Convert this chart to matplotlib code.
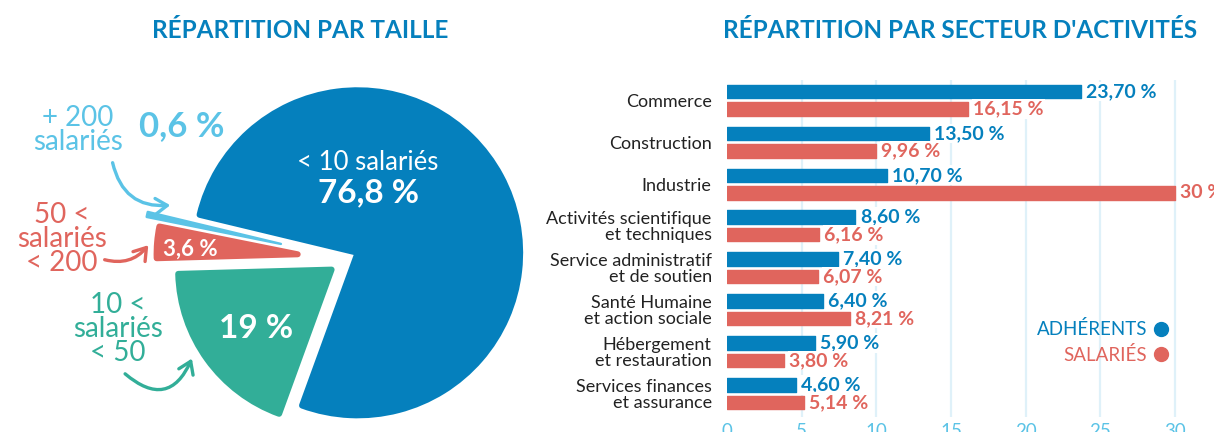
import matplotlib
matplotlib.use("Agg")
import matplotlib.pyplot as plt
from matplotlib.lines import Line2D
from matplotlib.patches import FancyArrowPatch

plt.rcParams['font.family'] = ['Lato', 'DejaVu Sans']

BLUE = '#0580bd'
RED = '#e0655d'
GREEN = '#32ae98'
LIGHT = '#5bc3e6'
GRID = '#dff1f9'
DARK = '#222222'

# pie data (répartition par taille)
size_labels = ['< 10 salariés', '+ 200\nsalariés', '50 <\nsalariés\n< 200', '10 <\nsalariés\n< 50']
size_values = [76.8, 0.6, 3.6, 19.0]

# bar data (répartition par secteur)
sectors = ['Commerce', 'Construction', 'Industrie', 'Activités scientifique\net techniques',
           'Service administratif\net de soutien', 'Santé Humaine\net action sociale',
           'Hébergement\net restauration', 'Services finances\net assurance']
adherents = [23.70, 13.50, 10.70, 8.60, 7.40, 6.40, 5.90, 4.60]
salaries = [16.15, 9.96, 30.0, 6.16, 6.07, 8.21, 3.80, 5.14]

W, H = 1214, 432
fig = plt.figure(figsize=(W / 100, H / 100), dpi=100)


def P(px, py):
    # pixel position (from top-left) -> figure fraction
    return px / W, 1 - py / H


def fmt(v, dec=2):
    if float(v).is_integer() and dec == 2:
        return f"{int(v)} %"
    return f"{v:.{dec}f}".replace('.', ',') + " %"


# ---------------- pie ----------------
unit = 165.0
cx, cy = 347, 258.5
axp = fig.add_axes([0, 0, 607 / W, 1])
wedges, _ = axp.pie(size_values, colors=[BLUE, LIGHT, RED, GREEN], startangle=-110,
                    counterclock=True, explode=[0.073, 0.41, 0.30, 0.115], radius=1)
for w, r, lw in zip(wedges, [0.985, 0.83, 0.855, 0.93], [6, 2.4, 6, 6]):
    w.set_radius(r)
    w.set_edgecolor(w.get_facecolor())
    w.set_linewidth(lw * 0.72)
    w.set_joinstyle('round')
axp.set_xlim(-cx / unit, (607 - cx) / unit)
axp.set_ylim(-(H - cy) / unit, cy / unit)
axp.set_aspect('equal')
axp.axis('off')

fig.text(*P(368, 163), size_labels[0], color='white', fontsize=18.5, ha='center', va='center')
fig.text(*P(369, 193), fmt(size_values[0], 1), color='white', fontsize=24,
         fontweight='bold', ha='center', va='center')
fig.text(*P(256, 328), fmt(size_values[3], 0), color='white', fontsize=24,
         fontweight='bold', ha='center', va='center')
fig.text(*P(190, 249), fmt(size_values[2], 1), color='white', fontsize=16,
         fontweight='bold', ha='center', va='center')
fig.text(*P(182, 126), fmt(size_values[1], 1), color=LIGHT, fontsize=25,
         fontweight='bold', ha='center', va='center')

fig.text(*P(78, 130), size_labels[1], color=LIGHT, fontsize=20, ha='center', va='center',
         linespacing=0.9)
fig.text(*P(62, 239), size_labels[2], color=RED, fontsize=20, ha='center', va='center',
         linespacing=0.9)
fig.text(*P(118, 329), size_labels[3], color=GREEN, fontsize=20, ha='center', va='center',
         linespacing=0.9)

for start, end, col, rad in [((112, 160), (173, 205), LIGHT, 0.45),
                             ((102, 259), (150, 243), RED, 0.35),
                             ((123, 372), (193, 356), GREEN, 0.7)]:
    fig.add_artist(FancyArrowPatch(
        P(*start), P(*end), transform=fig.transFigure, color=col, lw=2.4,
        arrowstyle='->,head_length=0.6,head_width=0.4',
        connectionstyle=f'arc3,rad={rad}', mutation_scale=14, capstyle='round', joinstyle='round'))

fig.text(*P(300, 30), 'RÉPARTITION PAR TAILLE', color=BLUE, fontsize=17.5, fontweight='bold',
         ha='center', va='center')
fig.text(*P(960, 30), "RÉPARTITION PAR SECTEUR D'ACTIVITÉS", color=BLUE, fontsize=17.5,
         fontweight='bold', ha='center', va='center')

# ---------------- bars ----------------
x0, xpx = 727, 448 / 30.0
axb = fig.add_axes([x0 / W, 1 - 417 / H, (W - x0) / W, (417 - 80) / H])
ypos = list(range(len(sectors)))
off, bh = 0.209, 0.322
axb.barh([y - off for y in ypos], adherents, height=bh, color=BLUE, edgecolor=BLUE,
         linewidth=1, joinstyle='round', zorder=3)
axb.barh([y + off for y in ypos], salaries, height=bh, color=RED, edgecolor=RED,
         linewidth=1, joinstyle='round', zorder=3)
for y, a, s in zip(ypos, adherents, salaries):
    axb.text(a + 0.35, y - off, fmt(a), color=BLUE, fontsize=14, fontweight='bold', va='center',
             ha='left', zorder=4, bbox=dict(facecolor='white', edgecolor='none', pad=1))
    axb.text(s + 0.35, y + off, fmt(s), color=RED, fontsize=14, fontweight='bold', va='center',
             ha='left', zorder=4, bbox=dict(facecolor='white', edgecolor='none', pad=1))

axb.set_xlim(0, (W - x0) / xpx)
axb.set_ylim(7.56, -0.483)
axb.set_xticks(range(0, 31, 5))
axb.set_yticks(ypos)
axb.set_yticklabels(sectors)
axb.grid(axis='x', color=GRID, lw=1.6, zorder=0)
axb.get_xgridlines()[0].set_visible(False)
axb.set_axisbelow(True)
for sp in axb.spines.values():
    sp.set_visible(False)
axb.tick_params(axis='x', length=0, pad=4, labelsize=13.5, labelcolor=LIGHT)
axb.tick_params(axis='y', length=0, pad=11, labelsize=13, labelcolor=DARK)
for lbl in axb.get_yticklabels():
    lbl.set_linespacing(0.98)

handles = [Line2D([], [], marker='o', ls='', color=BLUE, markersize=10),
           Line2D([], [], marker='o', ls='', color=RED, markersize=10)]
leg = axb.legend(handles, ['ADHÉRENTS', 'SALARIÉS'], markerfirst=False, frameon=False,
                 loc='center right', bbox_to_anchor=P(1168, 342), bbox_transform=fig.transFigure,
                 borderaxespad=0, borderpad=0, handlelength=0.8, handletextpad=0.3,
                 labelspacing=0.4, prop={'size': 13.5})
for t, c in zip(leg.get_texts(), [BLUE, RED]):
    t.set_color(c)

fig.savefig('out.png', dpi=100, facecolor='white')
